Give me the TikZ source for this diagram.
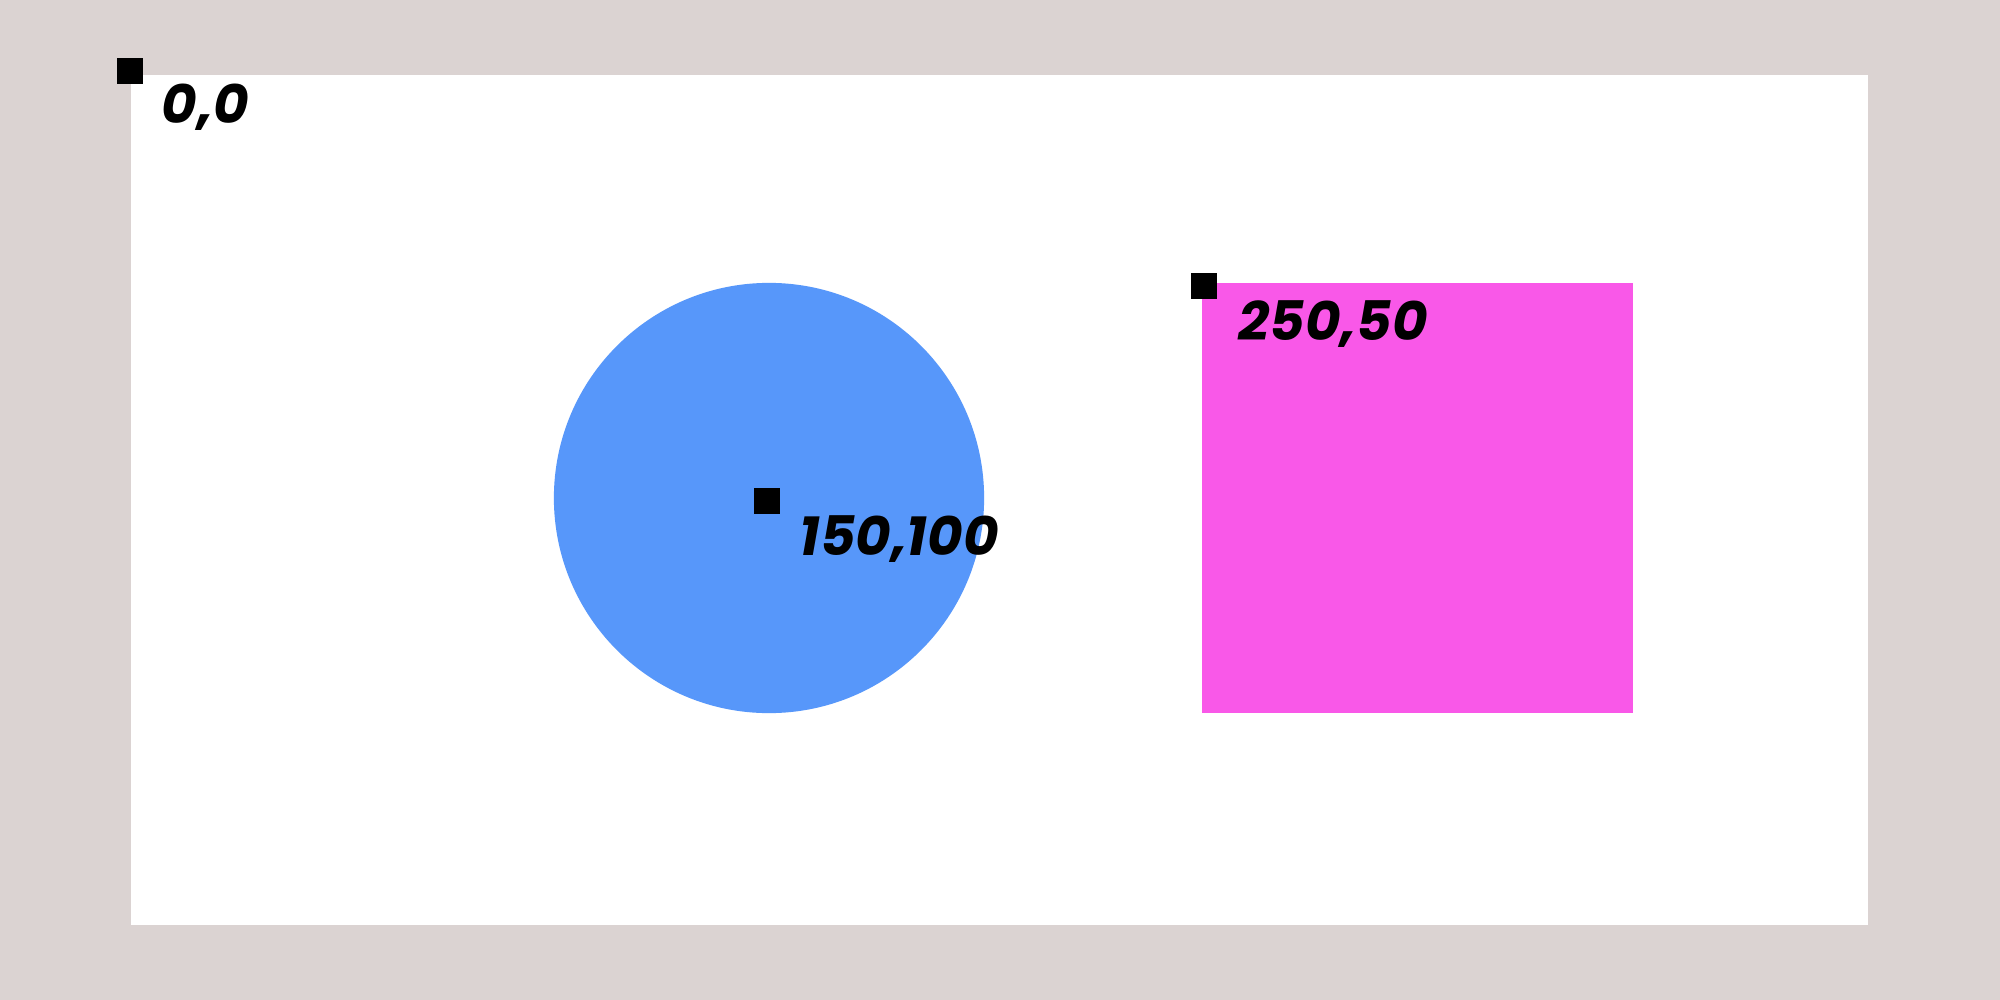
\documentclass[tikz,border=0pt]{standalone}
\usepackage{fontspec}
\setmainfont{Poppins}
\definecolor{bggray}{RGB}{219,211,210}
\definecolor{cblue}{RGB}{87,151,250}
\definecolor{cpink}{RGB}{249,88,232}
\begin{document}
\begin{tikzpicture}[x=0.01cm,y=-0.01cm,
  marker/.style={fill=black,draw=none,inner sep=0pt,minimum size=0.26cm,shape=rectangle},
  coordlabel/.style={anchor=base west,inner sep=0pt,font=\fontsize{15.5}{18}\selectfont\bfseries\itshape}]
  \fill[bggray] (0,0) rectangle (2000,1000);
  \useasboundingbox (0,0) rectangle (2000,1000);
  \fill[white] (131,75) rectangle (1868,925);
  \fill[cblue] (769,498) circle[radius=2.15cm];
  \fill[cpink] (1202,283) rectangle (1633,713);
  \node[marker] (m0) at (130,71) {};
  \node[coordlabel] (l0) at (161,123) {0,0};
  \node[marker] (m1) at (767,501) {};
  \node[coordlabel] (l1) at (799,555) {150,100};
  \node[marker] (m2) at (1204,286) {};
  \node[coordlabel] (l2) at (1238,340) {250,50};
\end{tikzpicture}
\end{document}
